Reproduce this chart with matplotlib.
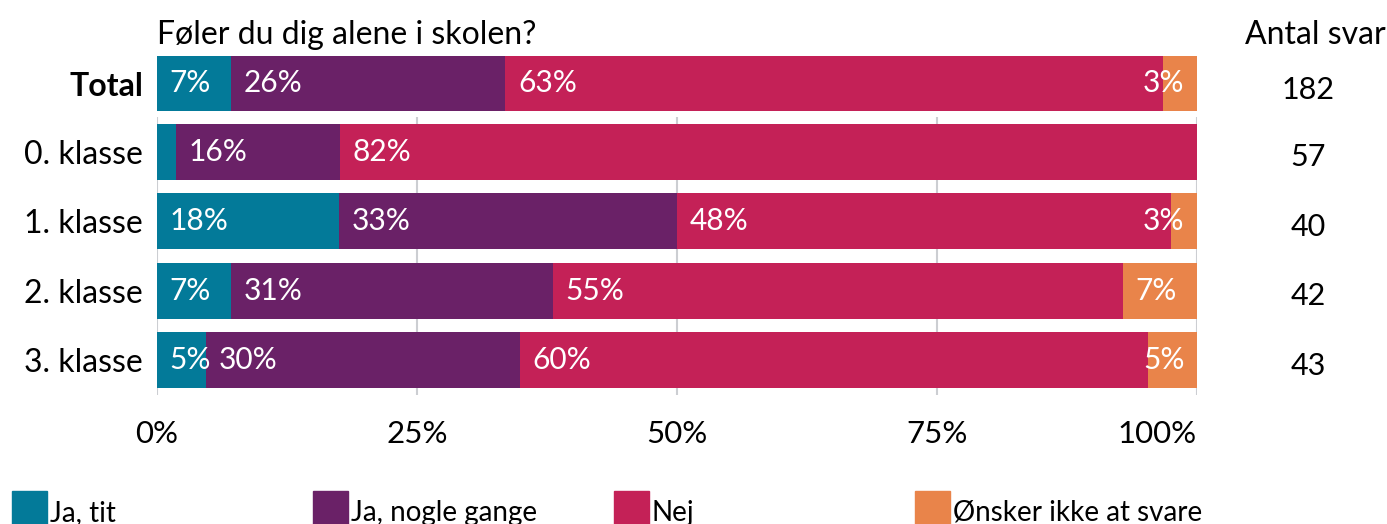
import matplotlib.pyplot as plt
from matplotlib.patches import Rectangle
from matplotlib.transforms import blended_transform_factory
import numpy as np

plt.rcParams['font.family'] = ['Lato', 'DejaVu Sans']

TITLE = "Føler du dig alene i skolen?"
categories = ["Ja, tit", "Ja, nogle gange", "Nej", "Ønsker ikke at svare"]
colors = ["#037A99", "#6A2167", "#C42157", "#E9844A"]

total_label = "Total"
total_values = [7.1, 26.4, 63.2, 3.3]
total_n = 182

rows = ["0. klasse", "1. klasse", "2. klasse", "3. klasse"]
ja_tit = [1.8, 17.5, 7.1, 4.7]
ja_nogle = [15.8, 32.5, 31.0, 30.2]
nej = [82.4, 47.5, 54.8, 60.4]
onsker = [0.0, 2.5, 7.1, 4.7]
antal = [57, 40, 42, 43]

xticks = [0, 25, 50, 75, 100]


def pct(v):
    return f"{int(np.floor(v + 0.5))}%"


def draw_bars(ax, labels, series):
    y = np.arange(len(labels))
    left = np.zeros(len(labels))
    for vals, col in zip(series, colors):
        vals = np.array(vals)
        ax.barh(y, vals, left=left, height=0.8, color=col, zorder=2)
        for yi, l, v in zip(y, left, vals):
            if v < 2.2:
                continue
            if l + v >= 99.9 and v < 6:
                ax.text(98.8, yi, pct(v), ha="right", va="center",
                        color="white", fontsize=21.5, zorder=3)
            else:
                ax.text(l + 1.2, yi, pct(v), ha="left", va="center",
                        color="white", fontsize=21.5, zorder=3)
        left = left + vals
    ax.set_xlim(0, 100)
    ax.set_ylim(len(labels) - 0.5, -0.5)
    ax.set_yticks(y)
    ax.set_yticklabels(labels, fontsize=23)
    ax.tick_params(axis="y", length=0, pad=10)
    for s in ax.spines.values():
        s.set_visible(False)


fig = plt.figure(figsize=(13.87, 5.24), dpi=100)
W, H = 1387, 524
x0, x1 = 157, 1197

# Total panel
ax_t = fig.add_axes([x0 / W, (H - 118) / H, (x1 - x0) / W, 69 / H])
draw_bars(ax_t, [total_label], [[v] for v in total_values])
ax_t.set_xticks([])
ax_t.get_yticklabels()[0].set_fontweight("bold")

# class panel
ax = fig.add_axes([x0 / W, (H - 395) / H, (x1 - x0) / W, 278 / H])
draw_bars(ax, rows, [ja_tit, ja_nogle, nej, onsker])
ax.set_xticks(xticks)
ax.set_xticklabels([f"{t}%" for t in xticks], fontsize=22.5)
ax.get_xticklabels()[-1].set_ha("right")
ax.tick_params(axis="x", length=0, pad=18)
ax.grid(axis="x", color="#CCCED2", linewidth=1.5, zorder=0)
ax.set_axisbelow(True)

fig.text(x0 / W, (H - 35) / H, TITLE, ha="left", va="center", fontsize=23)

# Antal svar column
fig.text(1315 / W, (H - 35) / H, "Antal svar", ha="center", va="center", fontsize=23)
tr_t = blended_transform_factory(fig.transFigure, ax_t.transData)
ax_t.text(1308 / W, 0.1, str(total_n), transform=tr_t, ha="center", va="center", fontsize=22)
tr = blended_transform_factory(fig.transFigure, ax.transData)
for i, n in enumerate(antal):
    ax.text(1308 / W, i + 0.08, str(n), transform=tr, ha="center", va="center", fontsize=22)

# legend along the bottom
for i, (cat, col) in enumerate(zip(categories, colors)):
    px = 12 + i * 301
    fig.patches.append(Rectangle((px / W, -10 / H), 35 / W, 43 / H,
                                 transform=fig.transFigure, color=col))
    fig.text((px + 38) / W, 3 / H, cat, ha="left", va="baseline", fontsize=20)

fig.savefig("out.png", dpi=100)
